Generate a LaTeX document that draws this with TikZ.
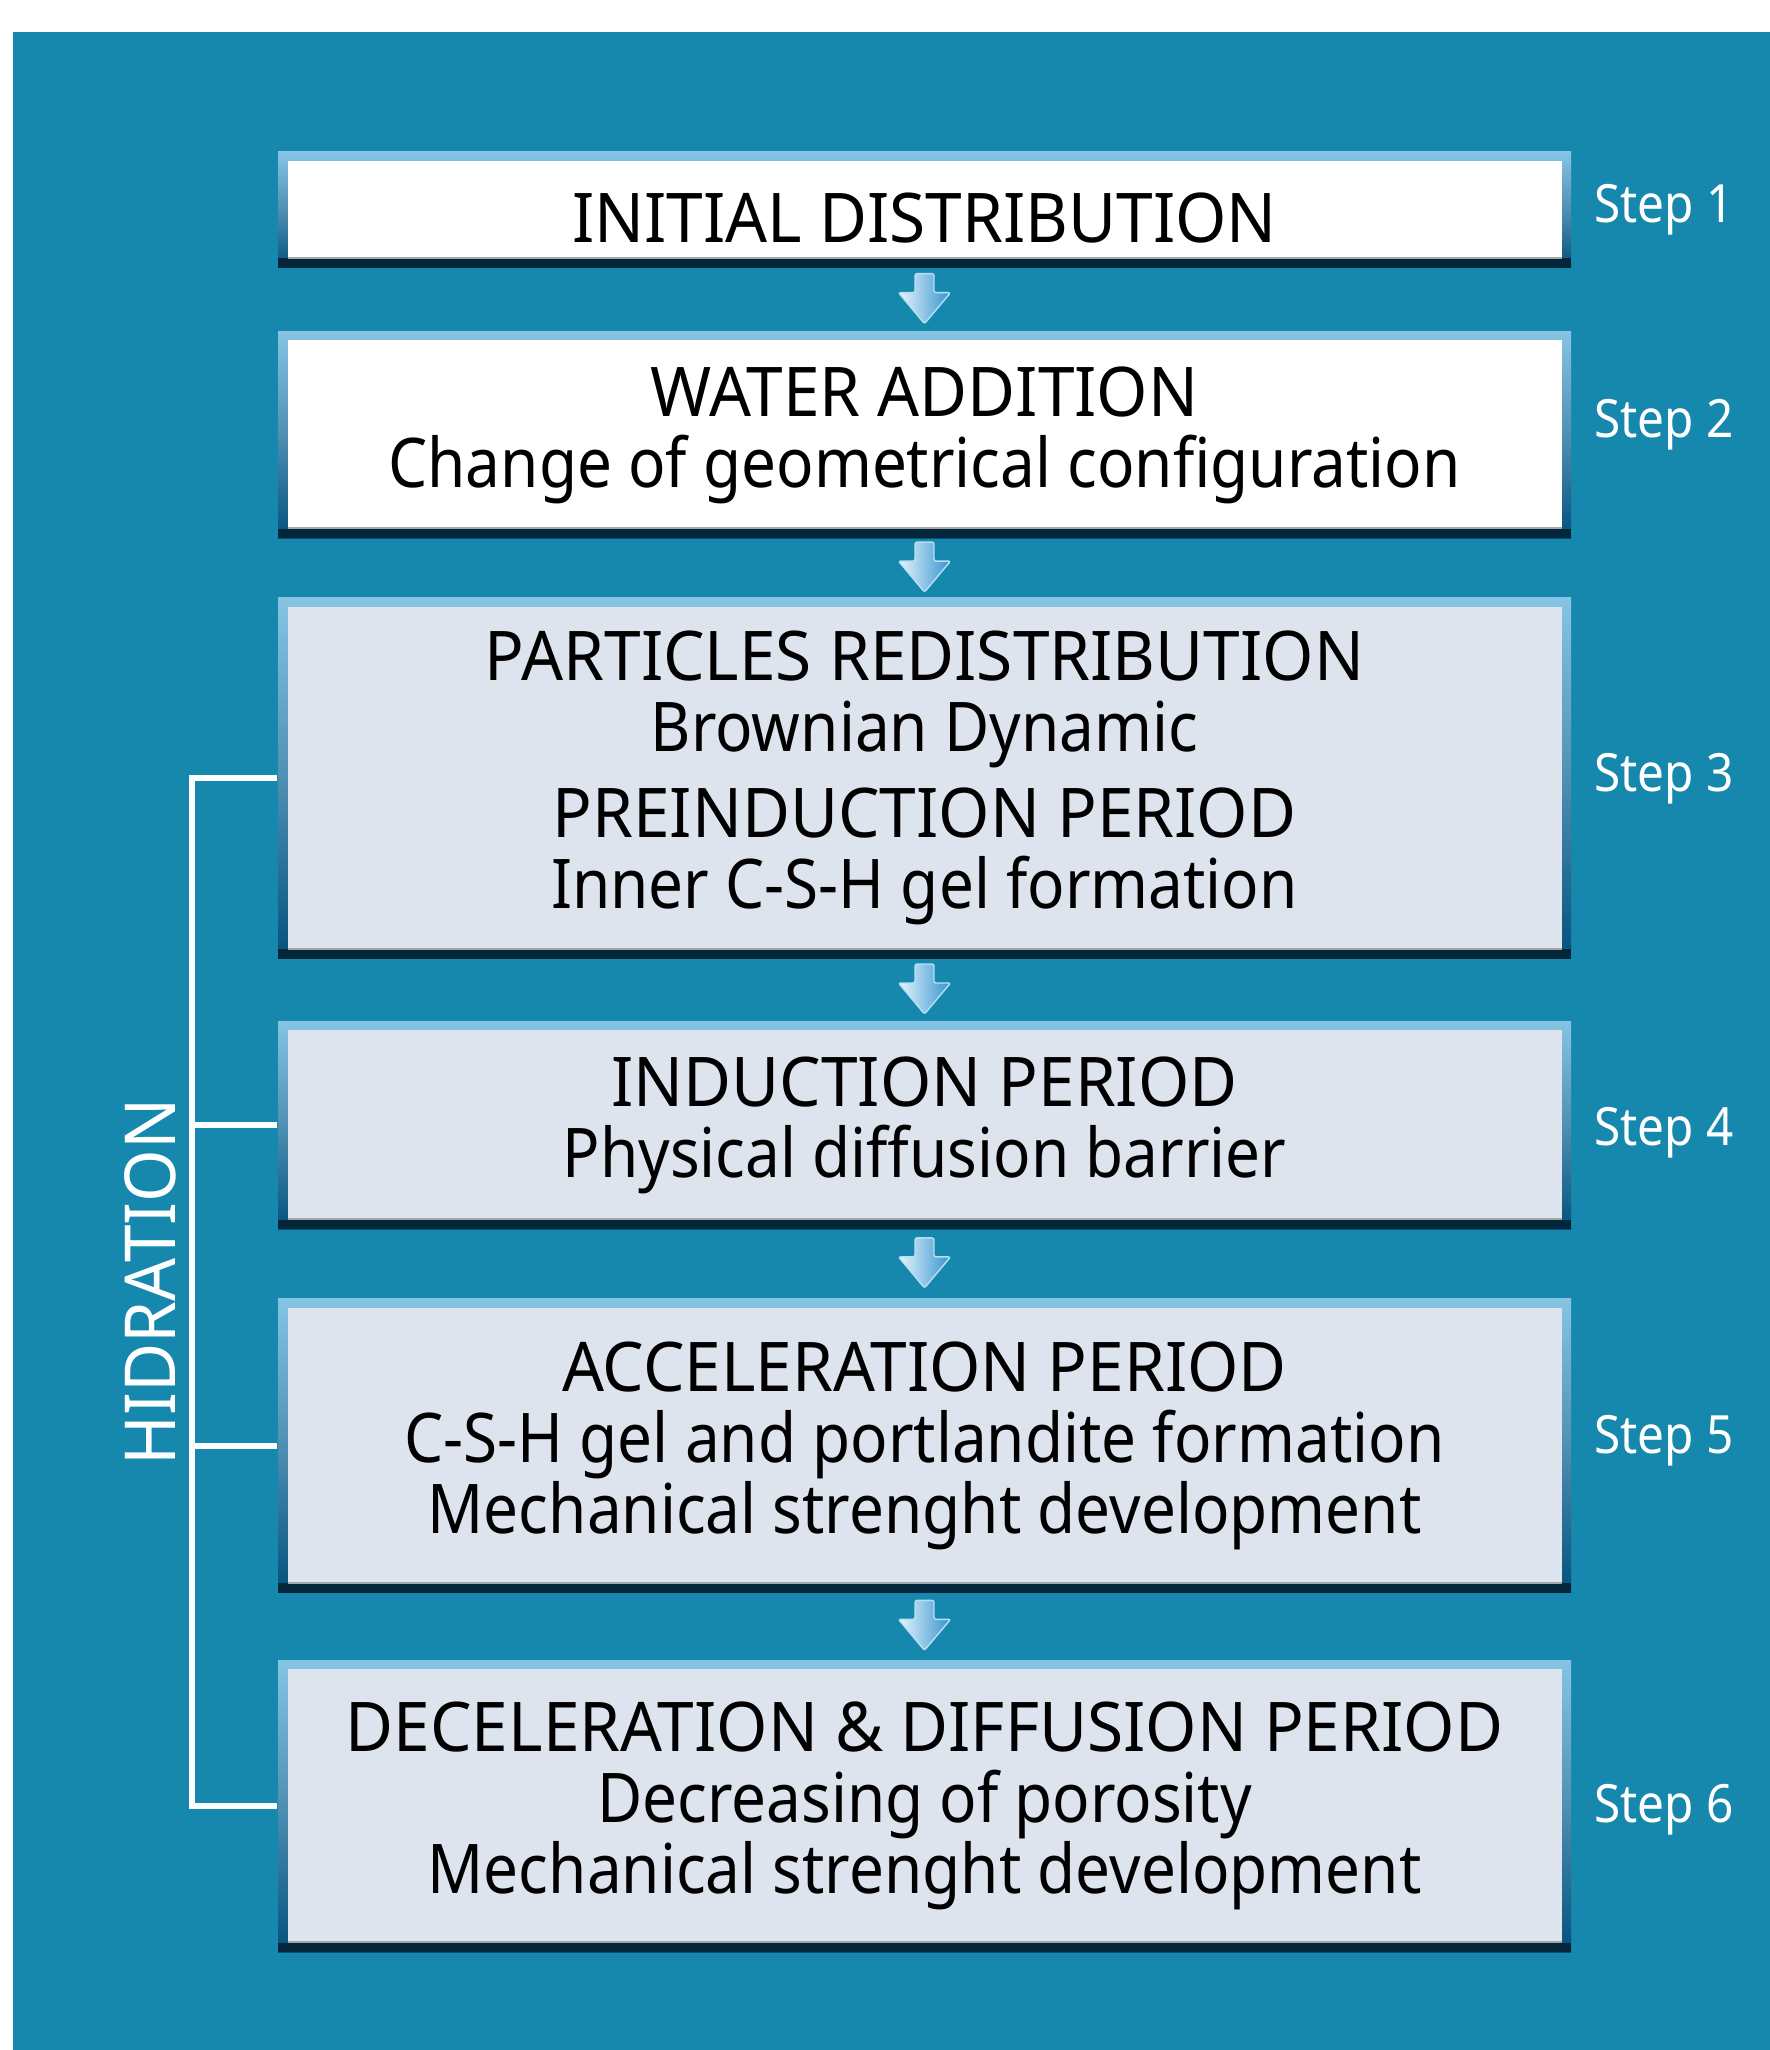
\documentclass[tikz,border=0pt]{standalone}
\usepackage{fontspec}
\setmainfont{Noto Sans}[FakeStretch=0.96]
\newfontfamily\subfont{Noto Sans}[FakeStretch=0.905]
\usepackage{xcolor}
\usetikzlibrary{positioning,calc}

\definecolor{bgblue}{HTML}{1788AD}
\definecolor{paleblue}{HTML}{DDE4EE}
\definecolor{framelight}{HTML}{86C4E4}
\definecolor{framemid}{HTML}{4F8FB3}
\definecolor{framedark}{HTML}{03517D}
\definecolor{framebottom}{HTML}{03263A}
\definecolor{arrowlight}{HTML}{E8F5FC}
\definecolor{arrowdark}{HTML}{3593CF}
\definecolor{arrowedge}{HTML}{B8E0F4}

\begin{document}
\begin{tikzpicture}[
    stage/.style={rectangle, minimum width=12.93cm, inner sep=0pt, align=center,
        font=\fontsize{19.5}{20.2}\selectfont, text=black,
        top color=framelight, bottom color=framedark, middle color=framemid,
        path picture={
            \fill[framebottom] (path picture bounding box.south west) rectangle ([yshift=0.095cm]path picture bounding box.south east);
            \fill[#1] ([shift={(0.095cm,-0.09cm)}]path picture bounding box.north west) rectangle ([shift={(-0.095cm,0.095cm)}]path picture bounding box.south east);
            \draw[gray!70, line width=0.02cm] ([shift={(0.095cm,0.1cm)}]path picture bounding box.south west) -- ([shift={(-0.095cm,0.1cm)}]path picture bounding box.south east);
        }},
    stage/.default=paleblue,
    steplabel/.style={text=white, font=\subfont\fontsize{15}{17}\selectfont, inner sep=0pt},
    sidelabel/.style={text=white, font=\fontsize{20}{20}\selectfont, rotate=90, inner sep=0pt},
    bracket/.style={draw=white, line width=0.06cm},
    pics/flowarrow/.style={code={
        \filldraw[left color=arrowlight, right color=arrowdark, draw=arrowedge, line width=0.4pt, rounded corners=0.6pt]
            (-0.095,0.26) -- (0.095,0.26) -- (0.095,0.07) -- (0.26,0.07) -- (0,-0.24) -- (-0.26,0.07) -- (-0.095,0.07) -- cycle;
    }}
]

    % page and panel
    \useasboundingbox (0,0) rectangle (17.70,-20.50);
    \fill[white] (0,0) rectangle (17.70,-20.50);
    \fill[bgblue] (0.13,-0.32) rectangle (17.70,-20.50);

    % ============================================================
    % STAGES
    % ============================================================
    \node[stage=white, minimum height=1.16cm, text height=0.65cm, text depth=0cm] (initial) at (9.245,-2.10) {INITIAL DISTRIBUTION};
    \node[stage=white, minimum height=2.07cm, below=0.62cm of initial] (water) {WATER ADDITION\\\subfont Change of geometrical configuration};
    \node[stage, minimum height=3.61cm, below=0.58cm of water] (preind) {PARTICLES REDISTRIBUTION\\\subfont Brownian Dynamic\\[0.15cm]PREINDUCTION PERIOD\\\subfont Inner C-S-H gel formation};
    \node[stage, minimum height=2.08cm, below=0.61cm of preind] (induct) {INDUCTION PERIOD\\\subfont Physical diffusion barrier};
    \node[stage, minimum height=2.94cm, below=0.68cm of induct] (accel) {ACCELERATION PERIOD\\\subfont C-S-H gel and portlandite formation\\\subfont Mechanical strenght development};
    \node[stage, minimum height=2.92cm, below=0.66cm of accel] (decel) {DECELERATION \& DIFFUSION PERIOD\\\subfont Decreasing of porosity\\\subfont Mechanical strenght development};

    % arrows between stages
    \foreach \a/\b in {initial/water, water/preind, preind/induct, induct/accel, accel/decel}
        \pic at ($(\a.south)!0.5!(\b.north)$) {flowarrow};

    % step numbers
    \foreach \n/\s/\dy in {initial/1/0, water/2/0.10, preind/3/0, induct/4/-0.08, accel/5/0.05, decel/6/-0.04}
        \node[steplabel, right=0.22cm of \n, yshift=\dy cm] (step\s) {Step \s};

    % ============================================================
    % HYDRATION BRACKET
    % ============================================================
    \draw[bracket] (preind.west) -- ++(-0.85,0) |- (decel.west);
    \draw[bracket] (induct.west) -- ++(-0.85,0);
    \draw[bracket] (accel.west) -- ++(-0.85,0);
    \node[sidelabel] (hydr) at (1.50,-12.82) {HIDRATION};

\end{tikzpicture}
\end{document}
